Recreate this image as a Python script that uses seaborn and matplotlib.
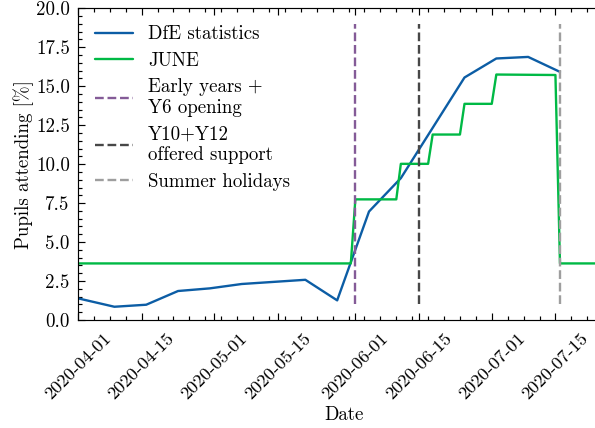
import matplotlib
matplotlib.use("Agg")
import matplotlib.pyplot as plt
import matplotlib.dates as mdates
from matplotlib.ticker import AutoMinorLocator, MultipleLocator
import seaborn as sns
import pandas as pd

# ---- data ----
dfe_dates = ["2020-04-01", "2020-04-09", "2020-04-16", "2020-04-23", "2020-04-30",
             "2020-05-07", "2020-05-21", "2020-05-28", "2020-06-04", "2020-06-11",
             "2020-06-25", "2020-07-02", "2020-07-09", "2020-07-16"]
dfe_values = [1.39, 0.85, 0.98, 1.86, 2.03, 2.31, 2.58, 1.26, 6.96, 9.1,
              15.56, 16.78, 16.88, 15.92]

june_dates = ["2020-04-01", "2020-05-31", "2020-06-01", "2020-06-10", "2020-06-11",
              "2020-06-17", "2020-06-18", "2020-06-24", "2020-06-25", "2020-07-01",
              "2020-07-02", "2020-07-15", "2020-07-16", "2020-07-28"]
june_values = [3.63, 3.63, 7.74, 7.74, 10.02, 10.02, 11.9, 11.9, 13.87, 13.87,
               15.75, 15.72, 3.63, 3.63]

event_dates = ["2020-06-01", "2020-06-15", "2020-07-16"]
event_labels = ["Early years +\nY6 opening", "Y10+Y12\noffered support", "Summer holidays"]
event_colors = ["#845B97", "#474747", "#9e9e9e"]

dfe = pd.DataFrame({"date": pd.to_datetime(dfe_dates), "value": dfe_values})
june = pd.DataFrame({"date": pd.to_datetime(june_dates), "value": june_values})

# ---- style ----
sns.set_theme(style="ticks")
plt.rcParams.update({
    "font.family": ["cmr10", "DejaVu Serif"],
    "mathtext.fontset": "cm",
    "axes.formatter.use_mathtext": True,
    "font.size": 8,
    "axes.labelsize": 8,
    "xtick.labelsize": 7.8,
    "ytick.labelsize": 8,
    "legend.fontsize": 8,
    "legend.labelspacing": 0.45,
    "axes.linewidth": 0.5,
    "axes.edgecolor": "black",
    "xtick.direction": "in",
    "ytick.direction": "in",
    "xtick.top": True,
    "ytick.right": True,
    "xtick.major.size": 3,
    "xtick.major.width": 0.5,
    "xtick.minor.size": 1.5,
    "xtick.minor.width": 0.5,
    "ytick.major.size": 3,
    "ytick.major.width": 0.5,
    "ytick.minor.size": 1.5,
    "ytick.minor.width": 0.5,
    "xtick.minor.visible": True,
    "ytick.minor.visible": True,
    "xtick.major.pad": 4.5,
    "lines.linewidth": 1.0,
    "xtick.color": "black",
    "ytick.color": "black",
    "text.color": "black",
    "axes.labelcolor": "black",
})

dpi = 170
fig = plt.figure(figsize=(595 / dpi, 428 / dpi), dpi=dpi)
W, H = 595.0, 428.0
x0 = 78.0
px_per_day = 4.547
xmin = pd.Timestamp("2020-04-01")
xmax = pd.Timestamp("2020-07-27")
ndays = (xmax - xmin).days
ax_w = ndays * px_per_day
ax = fig.add_axes([x0 / W, (H - 320.0) / H, ax_w / W, (320.0 - 8.3) / H])

sns.lineplot(data=dfe, x="date", y="value", ax=ax, color="#0C5DA5",
             label="DfE statistics", linewidth=1.0)
sns.lineplot(data=june, x="date", y="value", ax=ax, color="#00B945",
             label="JUNE", linewidth=1.0)
for d, lab, c in zip(event_dates, event_labels, event_colors):
    ax.vlines(pd.Timestamp(d), 1, 19, colors=c, linestyles="--", linewidth=1.0, label=lab)

ax.set_xlim(xmin, xmax)
ax.set_ylim(0, 20)
ax.xaxis.set_major_locator(mdates.DayLocator(bymonthday=[1, 15]))
ax.xaxis.set_major_formatter(mdates.DateFormatter("%Y-%m-%d"))
ax.xaxis.set_minor_locator(AutoMinorLocator(4))
ax.yaxis.set_major_locator(MultipleLocator(2.5))
ax.yaxis.set_minor_locator(AutoMinorLocator(5))
ax.yaxis.set_major_formatter(matplotlib.ticker.FormatStrFormatter("%.1f"))
for lab in ax.get_xticklabels():
    lab.set_rotation(45)
    lab.set_ha("center")
ax.set_xlabel("Date", labelpad=1.5)
ax.set_ylabel("Pupils attending [%]", labelpad=0.8)
ax.legend(loc="upper left", frameon=False)

fig.savefig("out.png", dpi=dpi)
